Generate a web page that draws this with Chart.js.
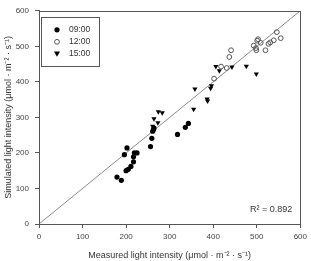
<!DOCTYPE html>
<html>
<head>
<meta charset="utf-8">
<script src="https://cdn.jsdelivr.net/npm/chart.js@4"></script>
<style>
  html, body { margin: 0; padding: 0; background: #fff; }
  #wrap { width: 311px; height: 261px; }
</style>
</head>
<body>
<div id="wrap"><canvas id="chart" width="311" height="261"></canvas></div>
<script>
const FONT = '"Liberation Sans Narrow", "Liberation Sans", Arial, sans-serif';

const seriesLabels = ["09:00", "12:00", "15:00"];

// measured (x) / simulated (y)
const morningX = [179, 189, 202, 196, 219, 225, 217, 217, 211, 205, 200, 256, 259, 261, 263, 264, 318, 336, 343];
const morningY = [132, 123, 214, 195, 200, 200, 189, 175, 162, 154, 150, 218, 241, 261, 266, 270, 252, 272, 283];

const noonX = [402, 418, 431, 437, 441, 493, 498, 499, 501, 503, 509, 520, 527, 531, 539, 546, 555];
const noonY = [409, 443, 439, 470, 489, 502, 495, 489, 516, 520, 510, 489, 507, 511, 517, 540, 523];

const afternoonX = [274, 283, 264, 273, 261, 355, 358, 386, 387, 394, 396, 406, 414, 443, 476, 499];
const afternoonY = [316, 313, 296, 285, 275, 323, 380, 352, 346, 382, 389, 443, 431, 442, 444, 422];

const lineX = [0, 600];
const lineY = [0, 600];

const tickValues = [0, 100, 200, 300, 400, 500, 600];
const xTitle = "Measured light intensity (\u03bcmol \u00b7 m\u207b\u00b2 \u00b7 s\u207b\u00b9)";
const yTitle = "Simulated light intensity (\u03bcmol \u00b7 m\u207b\u00b2 \u00b7 s\u207b\u00b9)";
const r2Text = "R\u00b2 = 0.892";

function toPoints(xs, ys) {
  return xs.map((x, i) => ({ x: x, y: ys[i] }));
}

function drawMarker(ctx, kind, x, y) {
  ctx.save();
  ctx.lineWidth = 1;
  if (kind === 0) {
    ctx.fillStyle = "#000";
    ctx.beginPath();
    ctx.arc(x, y, 2.6, 0, Math.PI * 2);
    ctx.fill();
  } else if (kind === 1) {
    ctx.strokeStyle = "#555";
    ctx.beginPath();
    ctx.arc(x, y, 2.4, 0, Math.PI * 2);
    ctx.stroke();
  } else {
    ctx.fillStyle = "#000";
    ctx.beginPath();
    ctx.moveTo(x - 3, y - 2.2);
    ctx.lineTo(x + 3, y - 2.2);
    ctx.lineTo(x, y + 3);
    ctx.closePath();
    ctx.fill();
  }
  ctx.restore();
}

const framePlugin = {
  id: "frame",
  afterDraw(chart) {
    const ctx = chart.ctx;
    const a = chart.chartArea;
    ctx.save();
    ctx.strokeStyle = "#555";
    ctx.lineWidth = 1;
    ctx.strokeRect(Math.round(a.left) + 0.5, Math.round(a.top) + 0.5, Math.round(a.right - a.left), Math.round(a.bottom - a.top));

    // legend box
    const lx = a.left + 2, ly = a.top + 6;
    ctx.strokeRect(Math.round(lx) + 0.5, Math.round(ly) + 0.5, 58, 49);
    ctx.font = "8.5px " + FONT;
    ctx.fillStyle = "#333";
    ctx.textBaseline = "middle";
    seriesLabels.forEach((lab, i) => {
      const yy = ly + 13 + i * 12;
      drawMarker(ctx, i, lx + 16, yy);
      ctx.fillText(lab, lx + 28, yy);
    });

    // R squared
    ctx.font = "9px " + FONT;
    ctx.textAlign = "right";
    ctx.fillText(r2Text, a.right - 8, a.bottom - 14);
    ctx.restore();
  }
};

const ctx = document.getElementById("chart").getContext("2d");
new Chart(ctx, {
  type: "scatter",
  data: {
    datasets: [
      {
        type: "line",
        label: "1:1",
        data: toPoints(lineX, lineY),
        borderColor: "#8a8a8a",
        borderWidth: 1,
        pointRadius: 0,
        order: 4,
      },
      {
        label: seriesLabels[0],
        data: toPoints(morningX, morningY),
        pointStyle: "circle",
        pointRadius: 2.6,
        backgroundColor: "#000",
        borderColor: "#000",
        borderWidth: 0,
      },
      {
        label: seriesLabels[1],
        data: toPoints(noonX, noonY),
        pointStyle: "circle",
        pointRadius: 2.4,
        backgroundColor: "rgba(255,255,255,0)",
        borderColor: "#555",
        borderWidth: 1,
      },
      {
        label: seriesLabels[2],
        data: toPoints(afternoonX, afternoonY),
        pointStyle: "triangle",
        rotation: 180,
        pointRadius: 3,
        backgroundColor: "#000",
        borderColor: "#000",
        borderWidth: 0,
      },
    ],
  },
  options: {
    responsive: false,
    animation: false,
    layout: { padding: { top: 4, right: 10, left: 0, bottom: 0 } },
    plugins: { legend: { display: false }, tooltip: { enabled: false } },
    scales: {
      x: {
        type: "linear",
        min: 0,
        max: 600,
        afterBuildTicks: (s) => { s.ticks = tickValues.map((v) => ({ value: v })); },
        afterFit: (s) => { s.height = 37; },
        grid: { drawOnChartArea: false, tickLength: 4, color: "#555" },
        border: { color: "#555" },
        ticks: { color: "#444", font: { family: FONT, size: 8 }, padding: 4, maxRotation: 0 },
        title: { display: true, text: xTitle, color: "#333", font: { family: FONT, size: 9 }, padding: { top: 6, bottom: 0 } },
      },
      y: {
        type: "linear",
        min: 0,
        max: 600,
        afterBuildTicks: (s) => { s.ticks = tickValues.map((v) => ({ value: v })); },
        afterFit: (s) => { s.width = 39; },
        grid: { drawOnChartArea: false, tickLength: 4, color: "#555" },
        border: { color: "#555" },
        ticks: { color: "#444", font: { family: FONT, size: 8 }, padding: 6 },
        title: { display: true, text: yTitle, color: "#333", font: { family: FONT, size: 9 }, padding: { top: 3, bottom: 2 } },
      },
    },
  },
  plugins: [framePlugin],
});
</script>
</body>
</html>
